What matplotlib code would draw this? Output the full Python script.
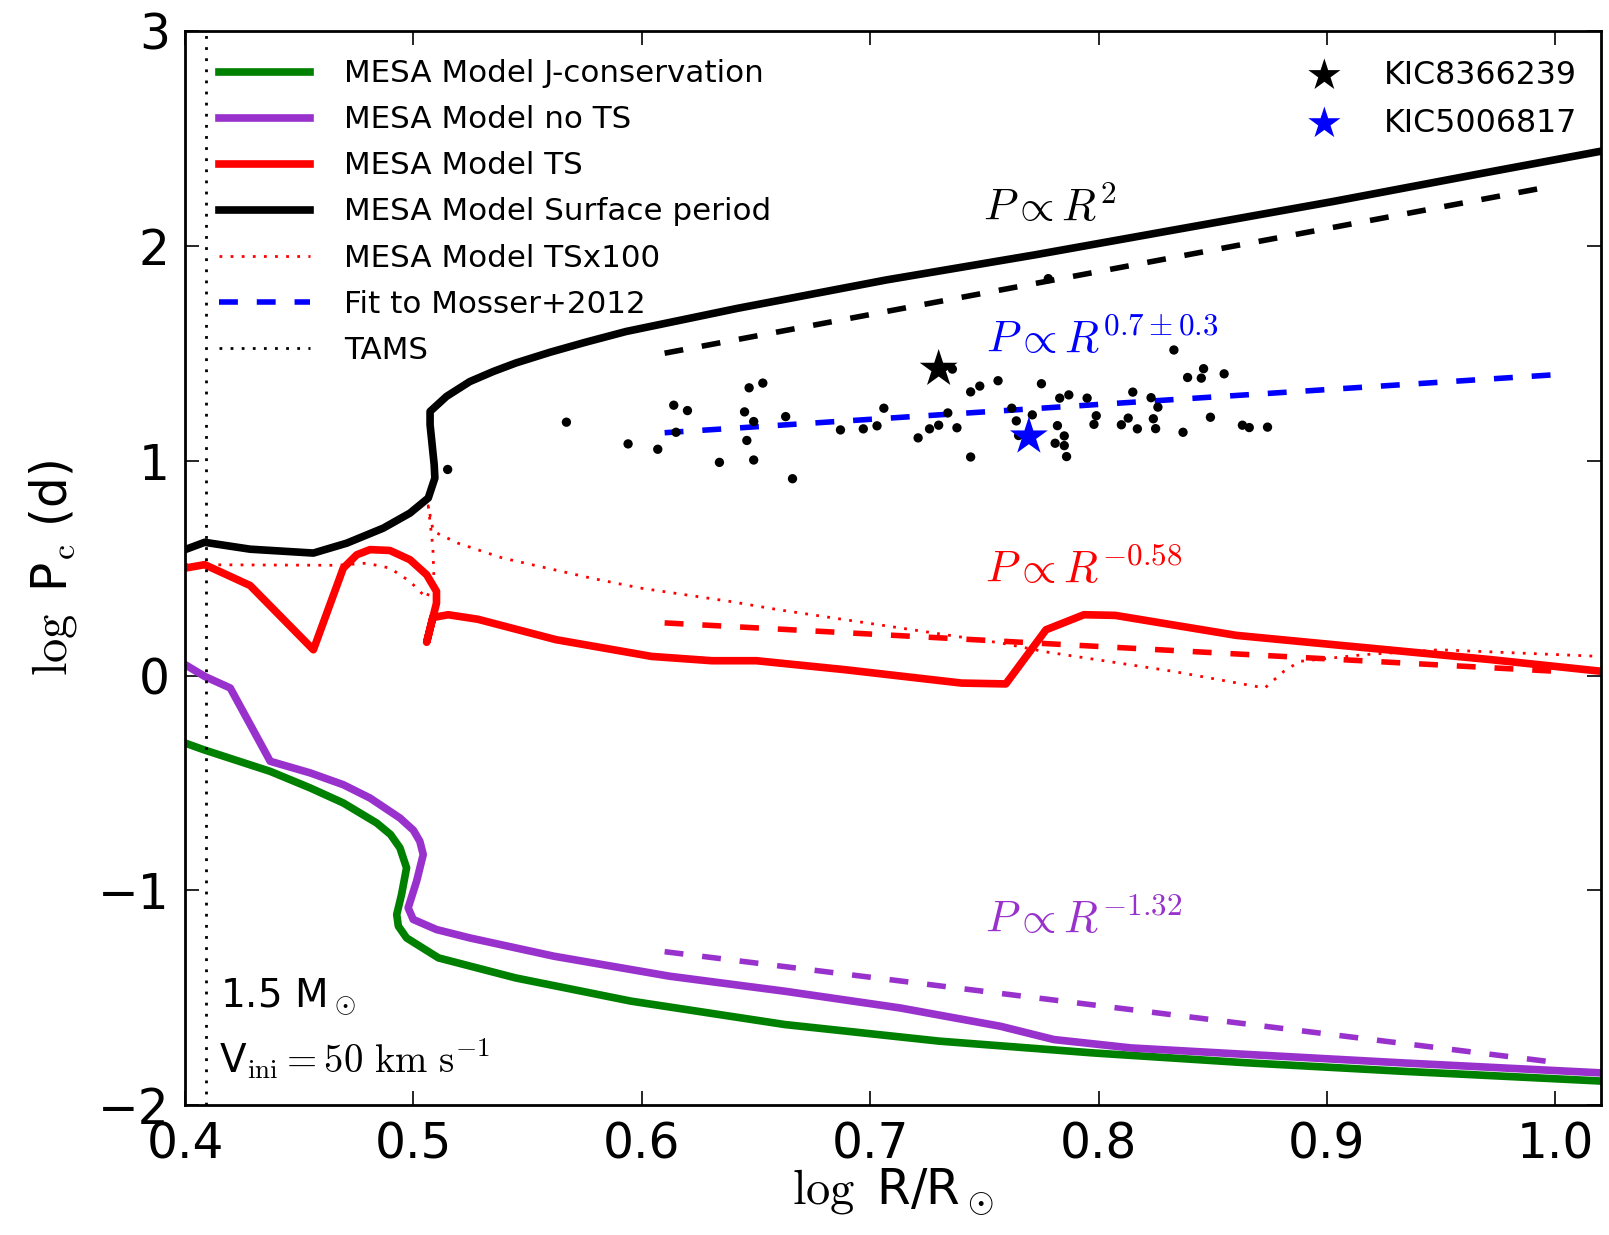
import matplotlib
matplotlib.use("Agg")
import matplotlib.pyplot as plt
import numpy as np

plt.rcParams["mathtext.fontset"] = "cm"
plt.rcParams["font.family"] = ["DejaVu Sans"]

# MESA models (log R/Rsun, log Pc)
jcons_x = [0.400, 0.4081, 0.4373, 0.4548, 0.4693, 0.4839, 0.4900, 0.4941, 0.497, 0.4948, 0.4927, 0.4934, 0.497,
           0.511, 0.5447, 0.5952, 0.6626, 0.73, 0.7974, 0.8648, 0.9322, 1.02]
jcons_y = [-0.314, -0.345, -0.446, -0.523, -0.593, -0.686, -0.74, -0.802, -0.895, -1.019, -1.112, -1.166, -1.221,
           -1.314, -1.407, -1.515, -1.624, -1.701, -1.756, -1.802, -1.841, -1.887]

nots_x = [0.400, 0.4086, 0.4198, 0.4373, 0.4548, 0.4693, 0.481, 0.4941, 0.5000, 0.5028, 0.5043, 0.5014, 0.4977,
          0.4999, 0.5101, 0.5247, 0.5615, 0.6121, 0.6626, 0.7132, 0.757, 0.7805, 0.8143, 0.8648, 0.9322, 1.02]
nots_y = [0.051, -0.004, -0.058, -0.399, -0.453, -0.508, -0.57, -0.663, -0.72, -0.771, -0.833, -0.957, -1.081,
          -1.135, -1.182, -1.221, -1.306, -1.399, -1.469, -1.547, -1.632, -1.694, -1.733, -1.763, -1.802, -1.849]

ts_x = [0.400, 0.4086, 0.4285, 0.4562, 0.4693, 0.4752, 0.481, 0.4897, 0.4985, 0.5058, 0.5101, 0.5101,
        0.5058, 0.5085, 0.5152, 0.5282, 0.5624, 0.6043, 0.6307, 0.6502, 0.6892, 0.740, 0.7594, 0.777,
        0.7936, 0.8073, 0.8603, 0.9104, 0.9718, 1.02]
ts_y = [0.50, 0.516, 0.419, 0.120, 0.50, 0.562, 0.586, 0.582, 0.539, 0.469, 0.392, 0.337,
        0.155, 0.27, 0.283, 0.262, 0.167, 0.089, 0.069, 0.069, 0.027, -0.035, -0.039, 0.213,
        0.283, 0.28, 0.187, 0.136, 0.074, 0.02]

surf_x = [0.400, 0.4086, 0.4285, 0.4562, 0.4708, 0.4868, 0.4985, 0.5065, 0.5094, 0.5091, 0.5073, 0.5073,
          0.5145, 0.5247, 0.535, 0.545, 0.56, 0.575, 0.5931, 0.642, 0.7071, 0.7723, 0.8375, 0.9027,
          0.9679, 1.02]
surf_y = [0.586, 0.620, 0.588, 0.570, 0.616, 0.686, 0.756, 0.826, 0.919, 0.981, 1.167, 1.229,
          1.299, 1.368, 1.415, 1.455, 1.505, 1.55, 1.601, 1.709, 1.841, 1.958, 2.082, 2.206,
          2.337, 2.44]

ts100_x = [0.400, 0.4664, 0.4795, 0.4897, 0.4985, 0.5058, 0.5090, 0.5085, 0.5065, 0.5087, 0.5195, 0.539,
           0.5585, 0.578, 0.5994, 0.619, 0.6385, 0.66, 0.6795, 0.699, 0.7185, 0.738, 0.7575, 0.777,
           0.8324, 0.8728, 0.8812, 0.8881, 0.916, 0.9494, 1.02]
ts100_y = [0.516, 0.513, 0.523, 0.50, 0.438, 0.36, 0.45, 0.60, 0.79, 0.671, 0.616, 0.547,
           0.50, 0.453, 0.407, 0.376, 0.345, 0.306, 0.275, 0.244, 0.213, 0.182, 0.151, 0.11,
           0.02, -0.058, 0.02, 0.066, 0.097, 0.12, 0.089]

tams_x = 0.409

# power law fits
fit_x = [0.61, 1.0]
fit_surf_y = [1.50, 2.28]
fit_mosser_y = [1.13, 1.40]
fit_ts_y = [0.245, 0.02]
fit_nots_y = [-1.285, -1.80]

# Mosser+2012 red giants
mosser_x = [0.567, 0.594, 0.607, 0.614, 0.615, 0.620, 0.634, 0.647, 0.653, 0.645, 0.649, 0.646, 0.649,
            0.663, 0.666, 0.687, 0.697, 0.703, 0.706, 0.721, 0.726, 0.730, 0.734, 0.738, 0.736, 0.744,
            0.744, 0.748, 0.756, 0.762, 0.764, 0.765, 0.771, 0.775, 0.782, 0.781, 0.785, 0.785, 0.786,
            0.783, 0.787, 0.795, 0.799, 0.798, 0.810, 0.813, 0.815, 0.817, 0.823, 0.824, 0.826, 0.825,
            0.833, 0.837, 0.839, 0.845, 0.846, 0.849, 0.855, 0.863, 0.866, 0.874, 0.515, 0.778]
mosser_y = [1.179, 1.078, 1.053, 1.258, 1.132, 1.233, 0.992, 1.339, 1.361, 1.227, 1.182, 1.094, 1.003,
            1.205, 0.916, 1.143, 1.148, 1.162, 1.244, 1.106, 1.148, 1.165, 1.222, 1.153, 1.426, 1.017,
            1.320, 1.347, 1.372, 1.244, 1.185, 1.117, 1.213, 1.358, 1.163, 1.081, 1.115, 1.070, 1.019,
            1.291, 1.306, 1.291, 1.209, 1.169, 1.167, 1.198, 1.319, 1.148, 1.293, 1.195, 1.249, 1.149,
            1.515, 1.132, 1.387, 1.384, 1.428, 1.202, 1.404, 1.165, 1.154, 1.156, 0.959, 1.847]

stars = ["KIC8366239", "KIC5006817"]
star_x = [0.730, 0.7695]
star_y = [1.427, 1.112]
star_col = ["k", "b"]

fig = plt.figure(figsize=(16.09, 12.35), dpi=100)
ax = fig.add_axes([0.115, 0.105, 0.88, 0.87])

lw = 5.5
l1, = ax.plot(jcons_x, jcons_y, color="g", lw=lw, label="MESA Model J-conservation")
l2, = ax.plot(nots_x, nots_y, color="darkorchid", lw=lw, label="MESA Model no TS")
l3, = ax.plot(ts_x, ts_y, color="r", lw=lw, label="MESA Model TS")
l4, = ax.plot(surf_x, surf_y, color="k", lw=lw, label="MESA Model Surface period")
l5, = ax.plot(ts100_x, ts100_y, color="r", lw=2, dashes=(1, 3), label="MESA Model TSx100")
l6, = ax.plot(fit_x, fit_mosser_y, color="b", lw=4, dashes=(3.4, 3.4), label="Fit to Mosser+2012")
l7 = ax.axvline(tams_x, color="k", lw=2, dashes=(1, 3), label="TAMS")

ax.plot(fit_x, fit_surf_y, color="k", lw=4, dashes=(3.4, 3.4))
ax.plot(fit_x, fit_ts_y, color="r", lw=4, dashes=(3.4, 3.4))
ax.plot(fit_x, fit_nots_y, color="darkorchid", lw=4, dashes=(3.4, 3.4))

ax.scatter(mosser_x, mosser_y, s=45, c="k", edgecolors="none", zorder=4)
hs = []
for i in range(len(stars)):
    h = ax.scatter(star_x[i], star_y[i], s=820, marker="*", c=star_col[i], edgecolors="none",
                   zorder=5, label=stars[i])
    hs.append(h)

leg1 = ax.legend(handles=[l1, l2, l3, l4, l5, l6, l7], loc="upper left", bbox_to_anchor=(0.0153, 0.985),
                 frameon=False, fontsize=22.3, handlelength=2.92, handletextpad=1.12, labelspacing=0.55,
                 borderaxespad=0)
ax.add_artist(leg1)
ax.legend(handles=hs, loc="upper right", bbox_to_anchor=(0.992, 0.985), frameon=False, fontsize=22.8,
          scatterpoints=1, handletextpad=0.87, labelspacing=0.54, borderaxespad=0, markerscale=0.85)

ax.text(0.7495, 2.113, r"$P\propto R^{2}$", fontsize=32, color="k", va="baseline")
ax.text(0.7509, 1.50, r"$P\propto R^{0.7\pm0.3}$", fontsize=32, color="b", va="baseline")
ax.text(0.7505, 0.43, r"$P\propto R^{-0.58}$", fontsize=32, color="r", va="baseline")
ax.text(0.7502, -1.198, r"$P\propto R^{-1.32}$", fontsize=32, color="darkorchid", va="baseline")
ax.text(0.4154, -1.539, r"1.5 M$_\odot$", fontsize=28, va="baseline")
ax.text(0.4147, -1.849, r"V$_{\rm ini}=50\ {\rm km\ s^{-1}}$", fontsize=28, va="baseline")

ax.set_xlim(0.4, 1.02)
ax.set_ylim(-2, 3)
ax.set_xticks([0.4, 0.5, 0.6, 0.7, 0.8, 0.9, 1.0])
ax.set_yticks([-2, -1, 0, 1, 2, 3])
ax.set_xticklabels(["0.4", "0.5", "0.6", "0.7", "0.8", "0.9", "1.0"])
ax.tick_params(direction="in", top=True, right=True, length=10, width=1.2, labelsize=35, pad=11)
for s in ax.spines.values():
    s.set_linewidth(2)
ax.set_xlabel(r"$\log$ R/R$_\odot$", fontsize=35, labelpad=-2)
ax.set_ylabel(r"$\log$ P$_{\rm c}$ (d)", fontsize=35, labelpad=14)

plt.savefig("out.png", dpi=100)
